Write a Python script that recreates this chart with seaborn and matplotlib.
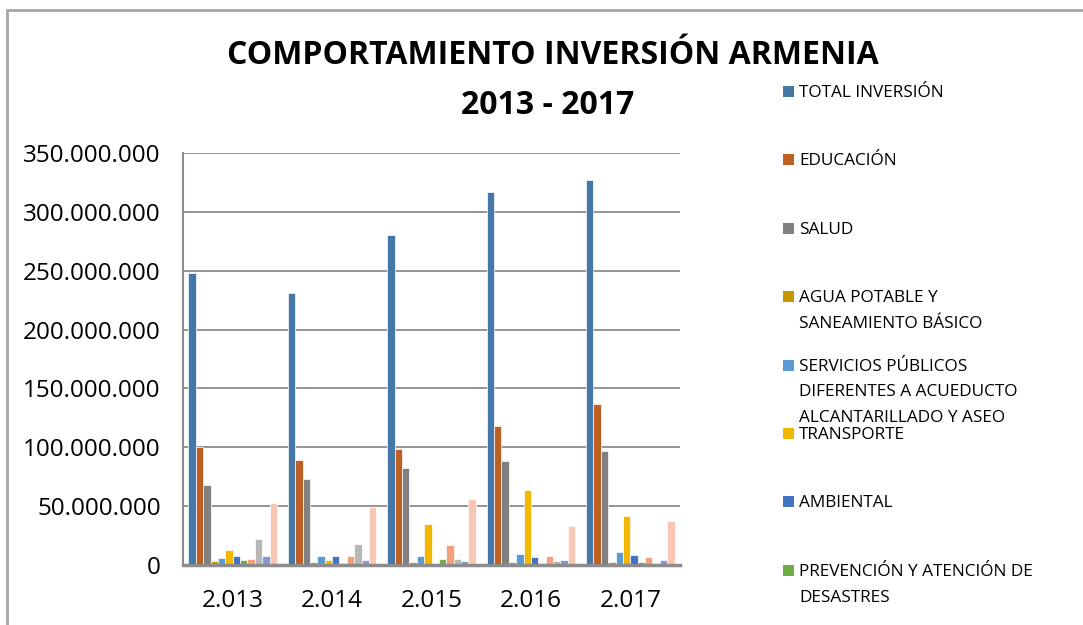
import matplotlib
matplotlib.use("Agg")
import matplotlib.pyplot as plt
from matplotlib.patches import Rectangle
from matplotlib.ticker import FuncFormatter, MultipleLocator
import numpy as np
import pandas as pd
import seaborn as sns

# ---------------- data (values in millions of pesos) ----------------
years = ["2.013", "2.014", "2.015", "2.016", "2.017"]

series_names = [
    "TOTAL INVERSIÓN",
    "EDUCACIÓN",
    "SALUD",
    "AGUA POTABLE Y\nSANEAMIENTO BÁSICO",
    "SERVICIOS PÚBLICOS\nDIFERENTES A ACUEDUCTO\nALCANTARILLADO Y ASEO",
    "TRANSPORTE",
    "AMBIENTAL",
    "PREVENCIÓN Y ATENCIÓN DE\nDESASTRES",
    "PROMOCIÓN DEL DESARROLLO",
    "ATENCIÓN A GRUPOS VULNERABLES",
    "EQUIPAMIENTO",
    "FORTALECIMIENTO INSTITUCIONAL",
]
n_legend_shown = 8

total_inversion = [248, 231, 280, 317, 327]
educacion       = [100, 89, 98.5, 118, 137]
salud           = [68, 73, 82.5, 88.5, 96.5]
agua_potable    = [3, 2.3, 2.6, 2.6, 2.3]
servicios_pub   = [6, 7.6, 7.6, 9.3, 11]
transporte      = [12.5, 4, 35, 63.5, 41.5]
ambiental       = [7.5, 7.6, 0.9, 6.7, 8.4]
prevencion      = [4.4, 2, 4.9, 1.7, 2.6]
promocion       = [5.2, 7.3, 17.2, 7.6, 6.9]
grupos_vuln     = [21.8, 17.7, 5.5, 3.2, 0.9]
equipamiento    = [7.3, 4, 3.2, 4.1, 4]
fortalecimiento = [52.3, 49.4, 56, 33.4, 37.3]

all_values = [total_inversion, educacion, salud, agua_potable, servicios_pub,
              transporte, ambiental, prevencion, promocion, grupos_vuln,
              equipamiento, fortalecimiento]

colors = ["#4677A9", "#BE5F24", "#818181", "#C59600", "#5B9BD5", "#F2B800",
          "#4472C4", "#70AD47", "#F4A07A", "#B7B7B7", "#8497D8", "#F7C6B4"]

rows = []
for name, vals in zip(series_names, all_values):
    for y, v in zip(years, vals):
        rows.append({"year": y, "serie": name, "value": v * 1e6})
df = pd.DataFrame(rows)

# ---------------- figure ----------------
sns.set_theme(style="white")
plt.rcParams["font.family"] = ["Open Sans", "DejaVu Sans"]

W, H = 1083, 625
fig = plt.figure(figsize=(W / 100, H / 100), dpi=100)
fig.patch.set_facecolor("white")

ax = fig.add_axes([183 / W, (H - 565) / H, 497 / W, 412 / H])

sns.barplot(data=df, x="year", y="value", hue="serie", hue_order=series_names,
            palette=colors, order=years, width=0.89, saturation=1,
            edgecolor="white", linewidth=0.5, legend=False, ax=ax, zorder=3)

ax.set_xlim(-0.5, len(years) - 0.5)
ax.set_ylim(0, 350e6)
ax.yaxis.set_major_locator(MultipleLocator(50e6))
ax.yaxis.set_major_formatter(FuncFormatter(lambda v, p: f"{int(round(v)):,}".replace(",", ".")))
ax.set_xlabel("")
ax.set_ylabel("")

ax.grid(axis="y", color="#8C8C8C", linewidth=1.3, zorder=0)
ax.grid(axis="x", visible=False)
ax.set_axisbelow(True)
for s in ["top", "right"]:
    ax.spines[s].set_visible(False)
ax.spines["left"].set_color("#8C8C8C")
ax.spines["left"].set_linewidth(1.5)
ax.spines["bottom"].set_color("#8C8C8C")
ax.spines["bottom"].set_linewidth(2.5)
ax.spines["bottom"].set_zorder(5)

ax.tick_params(axis="both", length=0, labelsize=17.5, colors="black")
ax.tick_params(axis="y", pad=16)
ax.tick_params(axis="x", pad=17)

# ---------------- title ----------------
fig.text(553 / W, 1 - 51 / H, "COMPORTAMIENTO INVERSIÓN ARMENIA", ha="center",
         va="center_baseline", fontsize=23, fontweight="bold", color="black")
fig.text(548 / W, 1 - 101 / H, "2013 - 2017", ha="center", va="center_baseline",
         fontsize=23, fontweight="bold", color="black")

# ---------------- legend (first eight series, Excel-style slots) ----------------
slot0, slot_step, line_step = 91, 68.4, 25.7
for i in range(n_legend_shown):
    yc = slot0 + i * slot_step
    fig.patches.append(Rectangle((783 / W, 1 - (yc + 6) / H), 11 / W, 11 / H,
                                 transform=fig.transFigure, facecolor=colors[i],
                                 edgecolor="none", figure=fig))
    for k, line in enumerate(series_names[i].split("\n")):
        fig.text(799 / W, 1 - (yc + k * line_step) / H, line, ha="left",
                 va="center_baseline", fontsize=12.4, color="black")

# ---------------- outer frame ----------------
fig.patches.append(Rectangle((6.5 / W, -0.2), 1.2, 1 - 9.5 / H + 0.2,
                             transform=fig.transFigure, fill=False,
                             edgecolor="#A6A6A6", linewidth=2, figure=fig))

fig.savefig("out.png", dpi=100, facecolor="white")
